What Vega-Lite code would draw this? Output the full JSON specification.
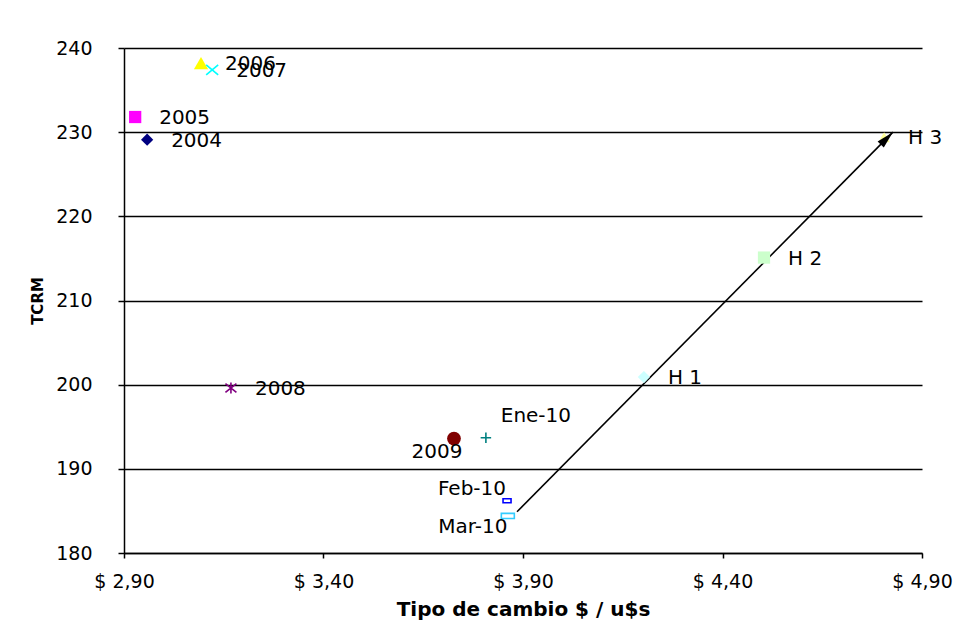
{
  "$schema": "https://vega.github.io/schema/vega-lite/v6.json",
  "width": 798,
  "height": 505,
  "autosize": {"type": "none"},
  "padding": {"left": 124, "top": 48, "right": 50, "bottom": 78},
  "background": "white",
  "config": {"view": {"stroke": null}, "font": "DejaVu Sans"},
  "datasets": {
    "points": [
      {"label": "2004", "x": 2.958, "y": 229.1},
      {"label": "2005", "x": 2.928, "y": 231.8},
      {"label": "2006", "x": 3.093, "y": 238.2},
      {"label": "2007", "x": 3.121, "y": 237.4},
      {"label": "2008", "x": 3.168, "y": 199.6},
      {"label": "2009", "x": 3.727, "y": 193.6},
      {"label": "Ene-10", "x": 3.807, "y": 193.7},
      {"label": "Feb-10", "x": 3.86, "y": 186.2},
      {"label": "Mar-10", "x": 3.862, "y": 184.4},
      {"label": "H 1", "x": 4.203, "y": 200.9},
      {"label": "H 2", "x": 4.504, "y": 215.1},
      {"label": "H 3", "x": 4.805, "y": 229.4}
    ],
    "arrow": [
      {"part": "start", "x": 3.885, "y": 184.9},
      {"part": "end", "x": 4.827, "y": 230.0}
    ]
  },
  "layer": [
    {
      "data": {"name": "arrow"},
      "mark": {"type": "line", "color": "black", "strokeWidth": 1.6},
      "encoding": {
        "x": {
          "field": "x", "type": "quantitative",
          "scale": {"domain": [2.9, 4.9], "nice": false, "zero": false},
          "axis": {
            "title": "Tipo de cambio $ / u$s",
            "values": [2.9, 3.4, 3.9, 4.4, 4.9],
            "labelExpr": "'$ ' + replace(format(datum.value, '.2f'), '.', ',')",
            "labelFlush": false,
            "grid": false,
            "domainColor": "black", "domainWidth": 1.5,
            "tickColor": "black", "tickSize": 5, "tickWidth": 1.5,
            "labelFont": "DejaVu Sans", "labelFontSize": 19, "labelColor": "black",
            "labelPadding": 14,
            "titleFont": "DejaVu Sans", "titleFontSize": 20, "titleFontWeight": "bold",
            "titleColor": "black", "titlePadding": 8
          }
        },
        "y": {
          "field": "y", "type": "quantitative",
          "scale": {"domain": [180, 240], "nice": false, "zero": false},
          "axis": {
            "title": "TCRM",
            "values": [180, 190, 200, 210, 220, 230, 240],
            "grid": true, "gridColor": "black", "gridWidth": 1.5, "gridOpacity": 1,
            "domainColor": "black", "domainWidth": 1.5,
            "tickColor": "black", "tickSize": 6, "tickWidth": 1.5,
            "labelFont": "DejaVu Sans", "labelFontSize": 19, "labelColor": "black",
            "labelPadding": 26,
            "titleFont": "DejaVu Sans", "titleFontSize": 15, "titleFontWeight": "bold",
            "titleColor": "black", "titlePadding": 10
          }
        },
        "order": {"field": "x", "type": "quantitative"}
      }
    },
    {
      "data": {"name": "points"},
      "transform": [{"filter": {"field": "label", "oneOf": ["2004", "2005", "2006", "2009", "H 1", "H 2", "H 3"]}}],
      "mark": {"type": "point", "filled": true, "opacity": 1},
      "encoding": {
        "x": {"field": "x", "type": "quantitative"},
        "y": {"field": "y", "type": "quantitative"},
        "shape": {"field": "label", "type": "nominal", "legend": null},
        "color": {"field": "label", "type": "nominal", "legend": null},
        "size": {
          "condition": [
            {"test": "datum.label === '2009'", "value": 190},
            {"test": "datum.label === '2005' || datum.label === 'H 2'", "value": 150},
            {"test": "datum.label === '2006'", "value": 200},
            {"test": "datum.label === '2004' || datum.label === 'H 1'", "value": 150}
          ],
          "value": 130
        }
      }
    },
    {
      "data": {"name": "points"},
      "transform": [{"filter": {"field": "label", "oneOf": ["2007", "2008", "Ene-10", "Feb-10", "Mar-10"]}}],
      "mark": {"type": "point", "filled": false, "opacity": 1, "strokeWidth": 1.6},
      "encoding": {
        "x": {"field": "x", "type": "quantitative"},
        "y": {"field": "y", "type": "quantitative"},
        "shape": {
          "field": "label", "type": "nominal", "legend": null,
          "scale": {
            "domain": ["2004", "2005", "2006", "2007", "2008", "2009", "Ene-10", "Feb-10", "Mar-10", "H 1", "H 2", "H 3"],
            "range": [
              "diamond", "square", "triangle-up",
              "M-1,-0.85L1,0.85M-1,0.85L1,-0.85",
              "M-1,-0.8L1,0.8M-1,0.8L1,-0.8M0,-1L0,1",
              "circle",
              "M-1,0L1,0M0,-1L0,1",
              "M-1,-0.5L1,-0.5L1,0.5L-1,0.5Z",
              "M-1,-0.4L1,-0.4L1,0.4L-1,0.4Z",
              "diamond", "square", "triangle-up"
            ]
          }
        },
        "color": {
          "field": "label", "type": "nominal", "legend": null,
          "scale": {
            "domain": ["2004", "2005", "2006", "2007", "2008", "2009", "Ene-10", "Feb-10", "Mar-10", "H 1", "H 2", "H 3"],
            "range": ["#000080", "#FF00FF", "#FFFF00", "#00FFFF", "#800080", "#800000", "#008080", "#0000FF", "#33CCFF", "#CCFFFF", "#CCFFCC", "#FFFF99"]
          }
        },
        "size": {
          "condition": [
            {"test": "datum.label === '2007'", "value": 144},
            {"test": "datum.label === '2008'", "value": 121},
            {"test": "datum.label === 'Feb-10'", "value": 64},
            {"test": "datum.label === 'Mar-10'", "value": 169}
          ],
          "value": 110
        }
      }
    },
    {
      "data": {"name": "arrow"},
      "transform": [{"filter": "datum.part === 'end'"}],
      "mark": {"type": "point", "filled": true, "color": "black", "opacity": 1, "shape": "M0,0L0.5,2L-0.5,2Z", "size": 300, "angle": 44.7},
      "encoding": {
        "x": {"field": "x", "type": "quantitative"},
        "y": {"field": "y", "type": "quantitative"}
      }
    },
    {
      "data": {"name": "points"},
      "transform": [{"filter": {"field": "label", "oneOf": ["2004", "2005", "2006", "2007", "2008", "H 1", "H 2", "H 3"]}}],
      "mark": {"type": "text", "align": "left", "baseline": "middle", "dx": 24, "dy": 1, "font": "DejaVu Sans", "fontSize": 20, "color": "black"},
      "encoding": {
        "x": {"field": "x", "type": "quantitative"},
        "y": {"field": "y", "type": "quantitative"},
        "text": {"field": "label"}
      }
    },
    {
      "data": {"name": "points"},
      "transform": [{"filter": "datum.label === '2009'"}],
      "mark": {"type": "text", "align": "center", "baseline": "middle", "dx": -17, "dy": 13, "font": "DejaVu Sans", "fontSize": 20, "color": "black"},
      "encoding": {
        "x": {"field": "x", "type": "quantitative"},
        "y": {"field": "y", "type": "quantitative"},
        "text": {"field": "label"}
      }
    },
    {
      "data": {"name": "points"},
      "transform": [{"filter": "datum.label === 'Ene-10'"}],
      "mark": {"type": "text", "align": "center", "baseline": "middle", "dx": 50, "dy": -22, "font": "DejaVu Sans", "fontSize": 20, "color": "black"},
      "encoding": {
        "x": {"field": "x", "type": "quantitative"},
        "y": {"field": "y", "type": "quantitative"},
        "text": {"field": "label"}
      }
    },
    {
      "data": {"name": "points"},
      "transform": [{"filter": "datum.label === 'Feb-10'"}],
      "mark": {"type": "text", "align": "right", "baseline": "middle", "dx": -1, "dy": -12, "font": "DejaVu Sans", "fontSize": 20, "color": "black"},
      "encoding": {
        "x": {"field": "x", "type": "quantitative"},
        "y": {"field": "y", "type": "quantitative"},
        "text": {"field": "label"}
      }
    },
    {
      "data": {"name": "points"},
      "transform": [{"filter": "datum.label === 'Mar-10'"}],
      "mark": {"type": "text", "align": "center", "baseline": "middle", "dx": -35, "dy": 11, "font": "DejaVu Sans", "fontSize": 20, "color": "black"},
      "encoding": {
        "x": {"field": "x", "type": "quantitative"},
        "y": {"field": "y", "type": "quantitative"},
        "text": {"field": "label"}
      }
    }
  ]
}
